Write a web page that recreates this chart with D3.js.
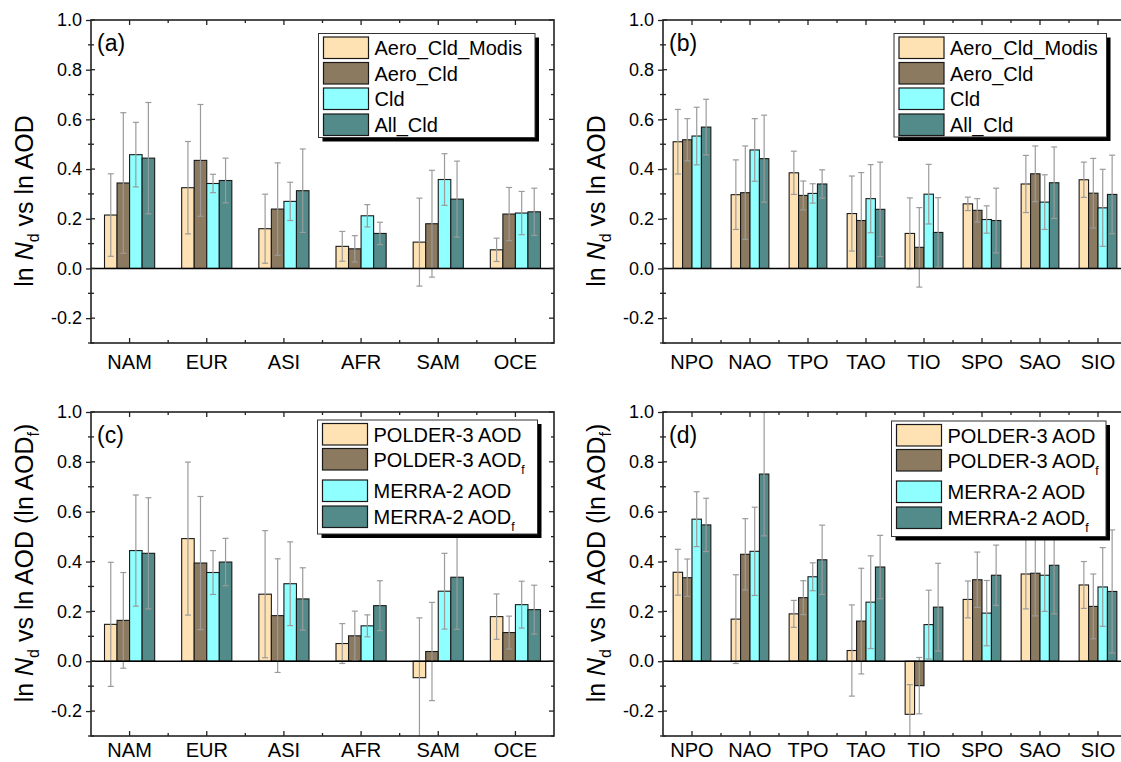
<!DOCTYPE html>
<html>
<head>
<meta charset="utf-8">
<script src="https://cdn.jsdelivr.net/npm/d3@7"></script>
<style>
  body { margin: 0; background: #fff; }
  svg { display: block; font-family: "Liberation Sans", Arial, sans-serif; }
</style>
</head>
<body>
<svg id="chart" width="1121" height="762"></svg>
<script>
// ---------- data ----------
const catsLand = ["NAM", "EUR", "ASI", "AFR", "SAM", "OCE"];
const catsOcean = ["NPO", "NAO", "TPO", "TAO", "TIO", "SPO", "SAO", "SIO"];
const yTickValues = [-0.2, 0.0, 0.2, 0.4, 0.6, 0.8, 1.0];
const yTickLabels = ["-0.2", "0.0", "0.2", "0.4", "0.6", "0.8", "1.0"];
const yMinorValues = [-0.3, -0.1, 0.1, 0.3, 0.5, 0.7, 0.9];

const seriesTop = ["Aero_Cld_Modis", "Aero_Cld", "Cld", "All_Cld"];
const seriesBottom = ["POLDER-3 AOD", "POLDER-3 AOD_f", "MERRA-2 AOD", "MERRA-2 AOD_f"];
const seriesColors = ["#FFE2B3", "#8C7A60", "#8FFFFF", "#528B89"];

// panel (a)
const aModis = [0.215, 0.325, 0.160, 0.089, 0.106, 0.075];
const aModisErr = [0.166, 0.186, 0.139, 0.060, 0.177, 0.047];
const aAero = [0.344, 0.435, 0.239, 0.079, 0.180, 0.219];
const aAeroErr = [0.283, 0.225, 0.186, 0.053, 0.215, 0.107];
const aCld = [0.458, 0.342, 0.270, 0.212, 0.358, 0.223];
const aCldErr = [0.130, 0.037, 0.077, 0.045, 0.104, 0.087];
const aAll = [0.444, 0.354, 0.313, 0.141, 0.279, 0.228];
const aAllErr = [0.224, 0.090, 0.168, 0.045, 0.153, 0.095];

// panel (b)
const bModis = [0.510, 0.297, 0.385, 0.221, 0.141, 0.260, 0.340, 0.357];
const bModisErr = [0.130, 0.140, 0.087, 0.151, 0.143, 0.027, 0.115, 0.071];
const bAero = [0.518, 0.305, 0.294, 0.193, 0.085, 0.234, 0.381, 0.303];
const bAeroErr = [0.085, 0.188, 0.058, 0.193, 0.160, 0.047, 0.112, 0.140];
const bCld = [0.533, 0.477, 0.302, 0.281, 0.299, 0.197, 0.267, 0.244];
const bCldErr = [0.116, 0.126, 0.039, 0.137, 0.120, 0.055, 0.110, 0.155];
const bAll = [0.569, 0.442, 0.340, 0.238, 0.145, 0.193, 0.345, 0.298];
const bAllErr = [0.112, 0.175, 0.057, 0.190, 0.140, 0.130, 0.144, 0.158];

// panel (c)
const cPAOD = [0.148, 0.492, 0.269, 0.071, -0.066, 0.179];
const cPAODErr = [0.249, 0.307, 0.255, 0.080, 0.240, 0.091];
const cPAODf = [0.164, 0.394, 0.183, 0.102, 0.039, 0.115];
const cPAODfErr = [0.192, 0.267, 0.228, 0.099, 0.197, 0.066];
const cMAOD = [0.444, 0.356, 0.311, 0.142, 0.281, 0.227];
const cMAODErr = [0.223, 0.088, 0.168, 0.044, 0.152, 0.094];
const cMAODf = [0.433, 0.398, 0.250, 0.223, 0.337, 0.207];
const cMAODfErr = [0.223, 0.095, 0.125, 0.100, 0.209, 0.098];

// panel (d)
const dPAOD = [0.357, 0.169, 0.190, 0.043, -0.213, 0.248, 0.350, 0.306];
const dPAODErr = [0.092, 0.178, 0.054, 0.183, 0.119, 0.074, 0.140, 0.094];
const dPAODf = [0.335, 0.429, 0.255, 0.161, -0.098, 0.327, 0.353, 0.220];
const dPAODfErr = [0.075, 0.143, 0.068, 0.212, 0.113, 0.111, 0.171, 0.130];
const dMAOD = [0.570, 0.441, 0.339, 0.237, 0.147, 0.193, 0.345, 0.298];
const dMAODErr = [0.110, 0.177, 0.056, 0.186, 0.138, 0.131, 0.145, 0.158];
const dMAODf = [0.547, 0.751, 0.407, 0.378, 0.217, 0.345, 0.385, 0.280];
const dMAODfErr = [0.107, 0.248, 0.139, 0.127, 0.176, 0.121, 0.195, 0.247];

// ---------- drawing ----------
const svg = d3.select("#chart");
const AX = "#222";

function drawPanel(opt) {
  const { id, x0, x1, y0, y1, cats, vals, errs, names, label, titleBottom } = opt;
  const g = svg.append("g");
  const x = d3.scaleBand().domain(cats).range([x0, x1]).paddingInner(0).paddingOuter(0);
  const y = d3.scaleLinear().domain([-0.3, 1.0]).range([y1, y0]);
  const bw = x.bandwidth();
  const sub = d3.scaleBand().domain(d3.range(4)).range([-bw * 0.325, bw * 0.325]);

  const clipId = "clip-" + id;
  svg.append("clipPath").attr("id", clipId)
    .append("rect").attr("x", x0).attr("y", y0).attr("width", x1 - x0).attr("height", y1 - y0);

  const plot = g.append("g").attr("clip-path", `url(#${clipId})`);

  // bars
  names.forEach((n, si) => {
    plot.append("g").selectAll("rect").data(cats).join("rect")
      .attr("x", (c) => x(c) + bw / 2 + sub(si))
      .attr("width", sub.bandwidth())
      .attr("y", (c, i) => y(Math.max(0, vals[si][i])))
      .attr("height", (c, i) => Math.abs(y(vals[si][i]) - y(0)))
      .attr("fill", seriesColors[si])
      .attr("stroke", "#1a1a1a").attr("stroke-width", 1.1);
  });
  // error bars
  names.forEach((n, si) => {
    const eg = plot.append("g").attr("stroke", "#9b9b9b").attr("stroke-width", 1.2);
    cats.forEach((c, i) => {
      const cx = x(c) + bw / 2 + sub(si) + sub.bandwidth() / 2;
      const hi = y(vals[si][i] + errs[si][i]);
      const lo = y(vals[si][i] - errs[si][i]);
      eg.append("line").attr("x1", cx).attr("x2", cx).attr("y1", hi).attr("y2", lo);
      eg.append("line").attr("x1", cx - 3).attr("x2", cx + 3).attr("y1", hi).attr("y2", hi);
      eg.append("line").attr("x1", cx - 3).attr("x2", cx + 3).attr("y1", lo).attr("y2", lo);
    });
  });
  // zero line
  g.append("line").attr("x1", x0).attr("x2", x1).attr("y1", y(0)).attr("y2", y(0))
    .attr("stroke", "#000").attr("stroke-width", 1.6);

  // axes: bottom
  const bottomAxis = d3.axisBottom(x).tickSize(0).tickPadding(opt.xPad);
  const gb = g.append("g").attr("transform", `translate(0,${y1})`).call(bottomAxis);
  gb.select(".domain").remove();
  gb.selectAll("text").attr("font-size", 20).attr("fill", "#000")
    .attr("font-family", '"Liberation Sans", Arial, sans-serif');
  // tick marks bottom/top
  const tg = g.append("g").attr("stroke", AX).attr("stroke-width", 1.3);
  cats.forEach((c) => {
    const cx = x(c) + bw / 2;
    tg.append("line").attr("x1", cx).attr("x2", cx).attr("y1", y1).attr("y2", y1 - 5);
    tg.append("line").attr("x1", cx).attr("x2", cx).attr("y1", y0).attr("y2", y0 + 5);
  });
  cats.slice(1).forEach((c) => {
    const bx = x(c);
    tg.append("line").attr("x1", bx).attr("x2", bx).attr("y1", y1).attr("y2", y1 - 3);
    tg.append("line").attr("x1", bx).attr("x2", bx).attr("y1", y0).attr("y2", y0 + 3);
  });
  // left axis
  const leftAxis = d3.axisLeft(y).tickValues(yTickValues)
    .tickFormat((d, i) => yTickLabels[i]).tickSize(5).tickPadding(4);
  const gl = g.append("g").attr("transform", `translate(${x0},0)`).call(leftAxis);
  gl.select(".domain").remove();
  gl.selectAll("line").attr("stroke", AX).attr("stroke-width", 1.3);
  gl.selectAll("text").attr("font-size", 18).attr("fill", "#000")
    .attr("font-family", '"Liberation Sans", Arial, sans-serif');
  yTickValues.forEach((v) => {
    tg.append("line").attr("x1", x0).attr("x2", x0 + 4).attr("y1", y(v)).attr("y2", y(v));
    tg.append("line").attr("x1", x1).attr("x2", x1 - 5).attr("y1", y(v)).attr("y2", y(v));
  });
  yMinorValues.forEach((v) => {
    tg.append("line").attr("x1", x0 - 3).attr("x2", x0 + 3).attr("y1", y(v)).attr("y2", y(v));
    tg.append("line").attr("x1", x1).attr("x2", x1 - 3).attr("y1", y(v)).attr("y2", y(v));
  });
  // frame
  g.append("rect").attr("x", x0).attr("y", y0).attr("width", x1 - x0).attr("height", y1 - y0)
    .attr("fill", "none").attr("stroke", AX).attr("stroke-width", 1.6);

  // panel label
  g.append("text").attr("x", x0 + 6).attr("y", y0 + 31).attr("font-size", 23).text(label);

  // y title
  const tx = x0 - 58, ty = opt.titleY;
  const t = g.append("text").attr("transform", `translate(${tx},${ty}) rotate(-90)`)
    .attr("text-anchor", "middle").attr("font-size", 25).attr("fill", "#000");
  t.append("tspan").text("ln ");
  t.append("tspan").attr("font-style", "italic").text("N");
  t.append("tspan").attr("font-size", 16).attr("dy", 6).text("d");
  t.append("tspan").attr("dy", -6).text(" vs ln AOD");
  if (titleBottom) {
    t.append("tspan").text(" (ln AOD");
    t.append("tspan").attr("font-size", 16).attr("dy", 6).text("f");
    t.append("tspan").attr("dy", -6).text(")");
  }

  // legend
  const L = opt.legend;
  const lg = svg.append("g");
  lg.append("rect").attr("x", L.x + 4).attr("y", L.y + 4).attr("width", L.w).attr("height", L.h).attr("fill", "#000");
  lg.append("rect").attr("x", L.x).attr("y", L.y).attr("width", L.w).attr("height", L.h)
    .attr("fill", "#fff").attr("stroke", "#333").attr("stroke-width", 1);
  names.forEach((n, si) => {
    const ry = L.y + L.rows[si];
    lg.append("rect").attr("x", L.x + 5).attr("y", ry).attr("width", 45).attr("height", 21.5)
      .attr("fill", seriesColors[si]).attr("stroke", "#1a1a1a").attr("stroke-width", 1.2);
    const tt = lg.append("text").attr("x", L.x + 56).attr("y", ry + 18).attr("font-size", 20).attr("fill", "#000");
    if (n.endsWith("_f")) {
      tt.append("tspan").text(n.slice(0, -2));
      tt.append("tspan").attr("font-size", 12).attr("dy", 7).attr("fill", "#000").text("f");
    } else {
      tt.text(n);
    }
  });
}

const legTopRows = [3.5, 29, 54.5, 80.5];
const legBotRows = [3.5, 28.5, 60, 86];

drawPanel({ id: "a", x0: 91, x1: 554, y0: 20, y1: 343, cats: catsLand, xPad: 12,
  vals: [aModis, aAero, aCld, aAll], errs: [aModisErr, aAeroErr, aCldErr, aAllErr],
  names: seriesTop, label: "(a)", titleBottom: false, titleY: 201,
  legend: { x: 318.5, y: 33.5, w: 216.5, h: 104, rows: legTopRows } });

drawPanel({ id: "b", x0: 663, x1: 1127, y0: 20, y1: 343, cats: catsOcean, xPad: 12,
  vals: [bModis, bAero, bCld, bAll], errs: [bModisErr, bAeroErr, bCldErr, bAllErr],
  names: seriesTop, label: "(b)", titleBottom: false, titleY: 201,
  legend: { x: 894, y: 33.5, w: 212.5, h: 103.5, rows: legTopRows } });

drawPanel({ id: "c", x0: 91, x1: 554, y0: 412, y1: 736, cats: catsLand, xPad: 7,
  vals: [cPAOD, cPAODf, cMAOD, cMAODf], errs: [cPAODErr, cPAODfErr, cMAODErr, cMAODfErr],
  names: seriesBottom, label: "(c)", titleBottom: true, titleY: 563,
  legend: { x: 317.5, y: 420, w: 220, h: 114, rows: legBotRows } });

drawPanel({ id: "d", x0: 663, x1: 1127, y0: 412, y1: 736, cats: catsOcean, xPad: 7,
  vals: [dPAOD, dPAODf, dMAOD, dMAODf], errs: [dPAODErr, dPAODfErr, dMAODErr, dMAODfErr],
  names: seriesBottom, label: "(d)", titleBottom: true, titleY: 563,
  legend: { x: 891.5, y: 421, w: 214.5, h: 115.5, rows: legBotRows } });
</script>
</body>
</html>
